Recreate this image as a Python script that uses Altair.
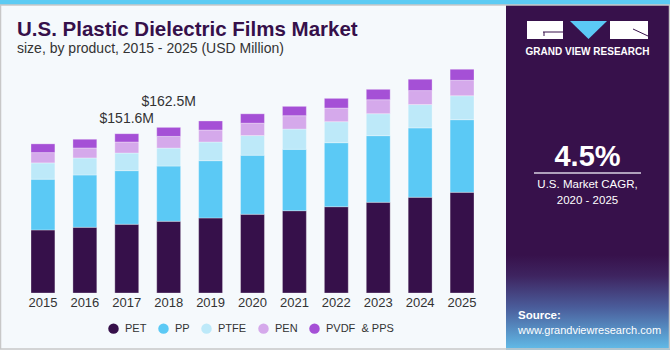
import altair as alt
import pandas as pd

years = [str(y) for y in range(2015, 2026)]
products = ["PET", "PP", "PTFE", "PEN", "PVDF\u00a0 & PPS"]
colors = ["#36104a", "#5bc9f5", "#bde9f9", "#d5a9eb", "#a550d6"]
pet = [60.0, 62.5, 65.4, 68.2, 71.4, 74.9, 78.3, 82.1, 86.3, 91.1, 95.8]
pp = [48.3, 49.8, 51.0, 52.6, 54.5, 56.2, 58.4, 60.9, 63.4, 66.0, 69.1]
ptfe = [15.5, 16.2, 16.8, 17.1, 17.8, 18.7, 19.3, 20.0, 20.9, 22.2, 22.8]
pen = [9.8, 9.5, 10.5, 11.1, 11.4, 11.8, 12.7, 13.0, 13.3, 13.3, 14.7]
pvdf = [8.3, 8.3, 7.9, 8.6, 8.6, 8.9, 8.9, 9.2, 9.9, 10.8, 10.5]
label_years = ["2017", "2018"]
label_texts = ["$151.6M", "$162.5M"]

series = [pet, pp, ptfe, pen, pvdf]
rows = []
for pi, (prod, vals) in enumerate(zip(products, series)):
    for y, v in zip(years, vals):
        rows.append({"year": y, "product": prod, "value": v, "idx": pi})
df = pd.DataFrame(rows)
totals = {y: sum(s[i] for s in series) for i, y in enumerate(years)}
ann = pd.DataFrame({"year": label_years, "label": label_texts,
                    "total": [totals[y] for y in label_years]})
yrs = pd.DataFrame({"year": years})
one = pd.DataFrame({"k": [0]})

FONT = "Liberation Sans"

xscale = alt.Scale(range=[22, 483], paddingInner=0.43, paddingOuter=0.215)
yscale = alt.Scale(domain=[0, 278.8], range=[293, 0])


def rect(x1, x2, y1, y2, **kw):
    return alt.Chart(one).mark_rect(**kw).encode(
        x=alt.value(x1), x2=alt.value(x2), y=alt.value(y1), y2=alt.value(y2))


def txt(s, x, y, **kw):
    return alt.Chart(one).mark_text(text=s, **kw).encode(x=alt.value(x), y=alt.value(y))


def rule(x1, x2, y1, y2, **kw):
    return alt.Chart(one).mark_rule(**kw).encode(
        x=alt.value(x1), x2=alt.value(x2), y=alt.value(y1), y2=alt.value(y2))


bars = alt.Chart(df).mark_bar(stroke="white", strokeOpacity=0.3, strokeWidth=1).encode(
    x=alt.X("year:N", scale=xscale, axis=None),
    y=alt.Y("value:Q", stack="zero", scale=yscale, axis=None),
    color=alt.Color("product:N", scale=alt.Scale(domain=products, range=colors),
                    legend=alt.Legend(orient="none", legendX=108, legendY=323,
                                      direction="horizontal", title=None,
                                      symbolType="circle", symbolSize=110,
                                      symbolStrokeWidth=0, labelFontSize=11,
                                      labelFont=FONT, labelColor="#333333",
                                      columnPadding=11, labelOffset=6, padding=0)),
    order=alt.Order("idx:Q"),
)

year_labels = alt.Chart(yrs).mark_text(fontSize=13, font=FONT, color="#333333",
                                       baseline="middle").encode(
    x=alt.X("year:N", scale=xscale, axis=None), y=alt.value(303), text="year:N")

ann1 = alt.Chart(ann).transform_filter("datum.year == '2017'").mark_text(
    fontSize=14, font=FONT, color="#333333", dy=-15, baseline="middle").encode(
    x=alt.X("year:N", scale=xscale, axis=None),
    y=alt.Y("total:Q", scale=yscale, axis=None), text="label:N")
ann2 = alt.Chart(ann).transform_filter("datum.year == '2018'").mark_text(
    fontSize=14, font=FONT, color="#333333", dy=-25, baseline="middle").encode(
    x=alt.X("year:N", scale=xscale, axis=None),
    y=alt.Y("total:Q", scale=yscale, axis=None), text="label:N")

grad = alt.Gradient(gradient="linear", x1=0, x2=0, y1=0, y2=1, stops=[
    alt.GradientStop(color="#37114b", offset=0),
    alt.GradientStop(color="#3e2460", offset=0.22),
    alt.GradientStop(color="#4a5c9a", offset=0.55),
    alt.GradientStop(color="#62bde9", offset=1)])

layers = [
    rect(0, 670, 0, 5, color="#5ccbf3"),
    rect(506, 670, 5, 350, color="#37114b"),
    rect(506, 670, 255, 350, color=grad),
    rect(0.5, 669.5, 5, 349, fill=None, filled=False, stroke="#c8c8c8", strokeWidth=1.5),
    bars, year_labels, ann1, ann2,
    txt("U.S. Plastic Dielectric Films Market", 17, 36, align="left", baseline="alphabetic",
        fontSize=20.5, fontWeight="bold", font=FONT, color="#36104a"),
    txt("size, by product, 2015 - 2025 (USD Million)", 17, 53, align="left",
        baseline="alphabetic", fontSize=14, font=FONT, color="#333333"),
    # logo
    rect(527, 563, 21, 39, color="white"),
    rect(610, 648, 21, 39, color="white"),
    rule(543, 563, 32, 32, color="#37114b", strokeWidth=1),
    rule(544, 544, 32, 36, color="#37114b", strokeWidth=1),
    rule(633, 648, 29, 36, color="#37114b", strokeWidth=1),
    alt.Chart(one).mark_point(shape="M-1,-0.49L1,-0.49L0,0.49Z", filled=True,
                              color="#5bc9f5", opacity=1, size=1369).encode(
        x=alt.value(588.5), y=alt.value(30)),
    txt("GRAND VIEW RESEARCH", 587.5, 52, align="center", baseline="middle",
        fontSize=10, fontWeight="bold", font=FONT, color="white"),
    txt("4.5%", 587.5, 166, align="center", baseline="alphabetic",
        fontSize=29, fontWeight="bold", font=FONT, color="white"),
    rule(534, 641, 173, 173, color="#d8d0e0", strokeWidth=1.5),
    txt("U.S. Market CAGR,", 587.5, 185, align="center", baseline="middle",
        fontSize=11.5, font=FONT, color="white"),
    txt("2020 - 2025", 587.5, 201, align="center", baseline="middle",
        fontSize=11.5, font=FONT, color="white"),
    txt("Source:", 518, 316, align="left", baseline="middle",
        fontSize=11.5, fontWeight="bold", font=FONT, color="white"),
    txt("www.grandviewresearch.com", 518, 331, align="left", baseline="middle",
        fontSize=11, font=FONT, color="white"),
]

chart = alt.layer(*layers).properties(
    width=670, height=350, autosize="none", padding=0, background="#f5f9fc"
).configure_view(stroke=None)

chart.save("out.html", embed_options={"renderer": "svg", "actions": False})
